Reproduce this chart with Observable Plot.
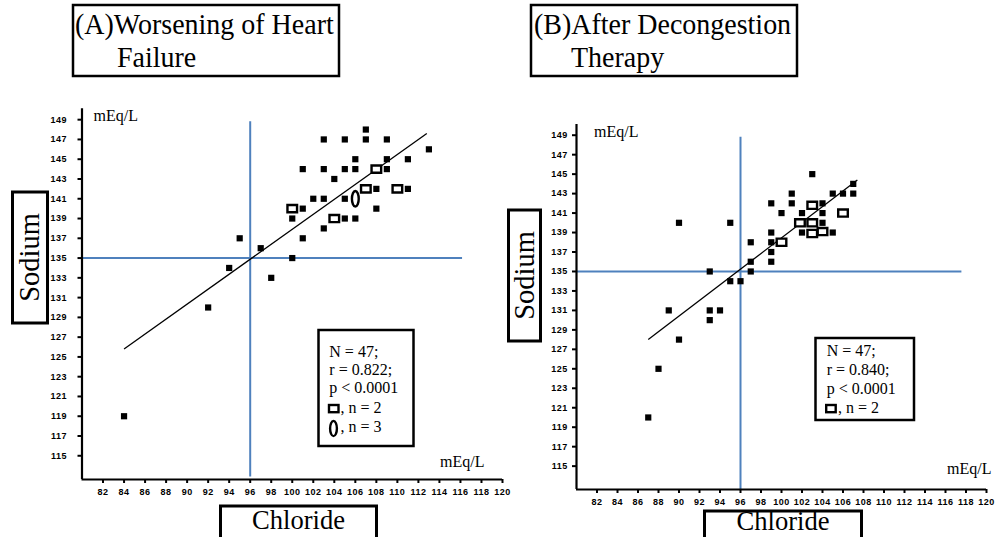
<!DOCTYPE html>
<html><head><meta charset="utf-8">
<script src="https://cdn.jsdelivr.net/npm/d3@7"></script>
<script src="https://cdn.jsdelivr.net/npm/@observablehq/plot@0.6"></script>
<style>
html,body{margin:0;padding:0;background:#fff;}
body{width:995px;height:537px;overflow:hidden;position:relative;}
.pl{position:absolute;top:0;}
#ov{position:absolute;left:0;top:0;pointer-events:none;}
</style></head><body>
<div id="pa" class="pl" style="left:0px"></div>
<div id="pb" class="pl" style="left:495px"></div>
<svg id="ov" width="995" height="537"></svg>
<script>
// ---------- data ----------
const ticksX = [82,84,86,88,90,92,94,96,98,100,102,104,106,108,110,112,114,116,118,120];
const ticksY = [115,117,119,121,123,125,127,129,131,133,135,137,139,141,143,145,147,149];

// Panel A: Worsening of heart failure (chloride, sodium)
const aFilledCl = [107,103,105,107,109,113,106,109,111,101,103,105,106,109,104,108,111,102,103,105,101,108,100,105,106,103,95,101,97,100,94,98,92,84];
const aFilledNa = [148,147,147,147,147,146,145,145,145,144,144,144,144,144,143,142,142,141,141,141,140,140,139,139,139,138,137,137,136,135,134,133,130,119];
const aPairCl = [100,108,107,110,104];   // squares, n = 2
const aPairNa = [140,144,142,142,139];
const aTripleCl = [106];                 // ellipse, n = 3
const aTripleNa = [141];
const aRegCl = [84, 112.8];
const aRegNa = [125.8, 147.6];
const aStats = ["N = 47;", "r = 0.822;", "p < 0.0001", ", n = 2", ", n = 3"];

// Panel B: After decongestion therapy
const bFilledCl = [103,107,101,105,106,107,99,101,104,100,102,104,90,95,104,99,102,105,97,99,99,97,99,93,97,95,96,89,93,94,93,90,88,87];
const bFilledNa = [145,144,143,143,143,143,142,142,142,141,141,141,140,140,140,139,139,139,138,138,137,136,136,135,135,134,134,131,131,131,130,128,125,120];
const bPairCl = [103,101.8,103,103,104,106,100];
const bPairNa = [141.8,140,140,138.9,139.1,141,138];
const bRegCl = [87, 107.4];
const bRegNa = [128.0, 144.4];
const bStats = ["N = 47;", "r = 0.840;", "p < 0.0001", ", n = 2"];

const refCl = 96, refNa = 135;
const titleA = ["(A)Worsening of Heart", "Failure"];
const titleB = ["(B)After Decongestion", "Therapy"];
const yLabel = "Sodium", xLabel = "Chloride", unit = "mEq/L";

// ---------- helpers ----------
const blue = "#4f81bd";
const pts = (xs, ys) => xs.map((x, i) => ({cl: x, na: ys[i]}));
const rectSym = {draw(c){ c.rect(-4.8, -3.6, 9.6, 7.2); }};
const ellSym = {draw(c){
  const rx = 3.4, ry = 7.8, k = 0.5523;
  c.moveTo(0, -ry);
  c.bezierCurveTo(rx*k, -ry, rx, -ry*k, rx, 0);
  c.bezierCurveTo(rx, ry*k, rx*k, ry, 0, ry);
  c.bezierCurveTo(-rx*k, ry, -rx, ry*k, -rx, 0);
  c.bezierCurveTo(-rx, -ry*k, -rx*k, -ry, 0, -ry);
  c.closePath();
}};

function panel(o){
  const yMin = 112.6, yMax = 150.1;
  const marks = [
    Plot.ruleX([{x: refCl, y1: o.vLo, y2: o.vHi}], {x: "x", y1: "y1", y2: "y2", stroke: blue, strokeWidth: 2}),
    Plot.ruleY([{y: refNa, x1: 80, x2: o.hHi}], {y: "y", x1: "x1", x2: "x2", stroke: blue, strokeWidth: 2}),
    Plot.link([{x1: o.reg[0][0], x2: o.reg[0][1], y1: o.reg[1][0], y2: o.reg[1][1]}], {x1: "x1", y1: "y1", x2: "x2", y2: "y2", stroke: "#000", strokeWidth: 1.3}),
    Plot.dot(o.filled, {x: "cl", y: "na", symbol: "square", r: 3.5, fill: "#000", stroke: "none"}),
    Plot.dot(o.pairs, {x: "cl", y: "na", symbol: rectSym, fill: "#fff", stroke: "#000", strokeWidth: 2.4}),
  ];
  if (o.triples) marks.push(Plot.dot(o.triples, {x: "cl", y: "na", symbol: ellSym, fill: "#fff", stroke: "#000", strokeWidth: 2.4}));
  marks.push(
    Plot.ruleX([80], {stroke: "#000", strokeWidth: 2.2}),
    Plot.ruleY([yMin], {stroke: "#000", strokeWidth: 2.2}),
    Plot.axisX({ticks: ticksX, tickSize: 4, tickPadding: 5.6, label: null, strokeWidth: 2, tickFormat: d => String(d)}),
    Plot.axisY({ticks: ticksY, tickSize: 4, tickPadding: o.yPad, label: null, strokeWidth: 2, tickFormat: d => String(d)})
  );
  return Plot.plot({
    width: o.width, height: 537,
    marginLeft: o.ml, marginRight: o.mr, marginTop: o.mt, marginBottom: o.mb,
    x: {domain: [80, 120]},
    y: {domain: [yMin, yMax]},
    style: {fontFamily: "'Liberation Sans', Arial, sans-serif", fontSize: "9px", fontWeight: "bold", color: "#000", letterSpacing: "0.5px", overflow: "visible", background: "transparent"},
    marks
  });
}

document.getElementById("pa").appendChild(panel({
  width: 520, ml: 81.5, mr: 18, mt: 108.3, mb: 58, yPad: 11,
  filled: pts(aFilledCl, aFilledNa), pairs: pts(aPairCl, aPairNa), triples: pts(aTripleCl, aTripleNa),
  reg: [aRegCl, aRegNa], vLo: 112.85, vHi: 148.8, hHi: 116.2
}));
document.getElementById("pb").appendChild(panel({
  width: 500, ml: 81, mr: 9, mt: 124, mb: 48, yPad: 4.7,
  filled: pts(bFilledCl, bFilledNa), pairs: pts(bPairCl, bPairNa),
  reg: [bRegCl, bRegNa], vLo: 112.6, vHi: 148.8, hHi: 117.6
}));

// ---------- overlay: boxes and labels ----------
const ov = d3.select("#ov");
const serif = "'Liberation Serif','Times New Roman',serif";
function box(x, y, w, h, sw){
  ov.append("rect").attr("x", x).attr("y", y).attr("width", w).attr("height", h)
    .attr("fill", "#fff").attr("stroke", "#000").attr("stroke-width", sw);
}
function txt(s, x, y, size, opt = {}){
  const t = ov.append("text").attr("x", x).attr("y", y).attr("font-family", serif)
    .attr("font-size", size).attr("fill", "#000").text(s);
  if (opt.anchor) t.attr("text-anchor", opt.anchor);
  let tr = "";
  if (opt.rot) tr += `rotate(-90,${x},${y}) `;
  if (opt.sx) tr += `translate(${x},${y}) scale(${opt.sx},1) translate(${-x},${-y})`;
  if (tr) t.attr("transform", tr);
  return t;
}
// titles
box(73, 5, 266, 71, 2.5);
txt(titleA[0], 75, 34.5, 29, {sx: 0.965});
txt(titleA[1], 117, 67, 29, {sx: 0.965});
box(531, 5, 266, 71, 2.5);
txt(titleB[0], 534, 34.5, 29, {sx: 0.965});
txt(titleB[1], 571, 67, 29, {sx: 0.965});
// Sodium boxes
box(12.5, 192, 35, 131, 3);
txt(yLabel, 39, 257.5, 30, {anchor: "middle", rot: true, sx: 0.95});
box(508.5, 210, 32, 131, 3);
txt(yLabel, 534, 275.5, 30, {anchor: "middle", rot: true, sx: 0.95});
// Chloride boxes
box(220.5, 506, 156, 45, 3);
txt(xLabel, 298.5, 529.5, 28, {anchor: "middle", sx: 0.95});
box(704.5, 511, 157, 45, 3);
txt(xLabel, 783, 530.5, 28, {anchor: "middle", sx: 0.95});
// units
txt(unit, 93.5, 121, 16);
txt(unit, 440, 467, 16);
txt(unit, 594, 137, 16);
txt(unit, 947, 474, 16);
// stats A
box(318.5, 330, 95, 116, 2.5);
const baseA = [356.7, 375, 393.3, 412.7, 431.7];
aStats.forEach((s, i) => txt(s, i < 3 ? 329.3 : 340.5, baseA[i], 16));
ov.append("rect").attr("x", 329).attr("y", 405).attr("width", 9.5).attr("height", 7.2).attr("fill", "#fff").attr("stroke", "#000").attr("stroke-width", 2.4);
ov.append("ellipse").attr("cx", 333.5).attr("cy", 428.5).attr("rx", 3.4).attr("ry", 7.6).attr("fill", "#fff").attr("stroke", "#000").attr("stroke-width", 2.4);
// stats B
box(815.5, 338, 98.5, 82, 2.5);
const baseB = [356, 375, 394, 413.3];
bStats.forEach((s, i) => txt(s, i < 3 ? 826.7 : 838, baseB[i], 16));
ov.append("rect").attr("x", 826.2).attr("y", 405).attr("width", 9.5).attr("height", 7.2).attr("fill", "#fff").attr("stroke", "#000").attr("stroke-width", 2.4);
</script>
</body></html>
